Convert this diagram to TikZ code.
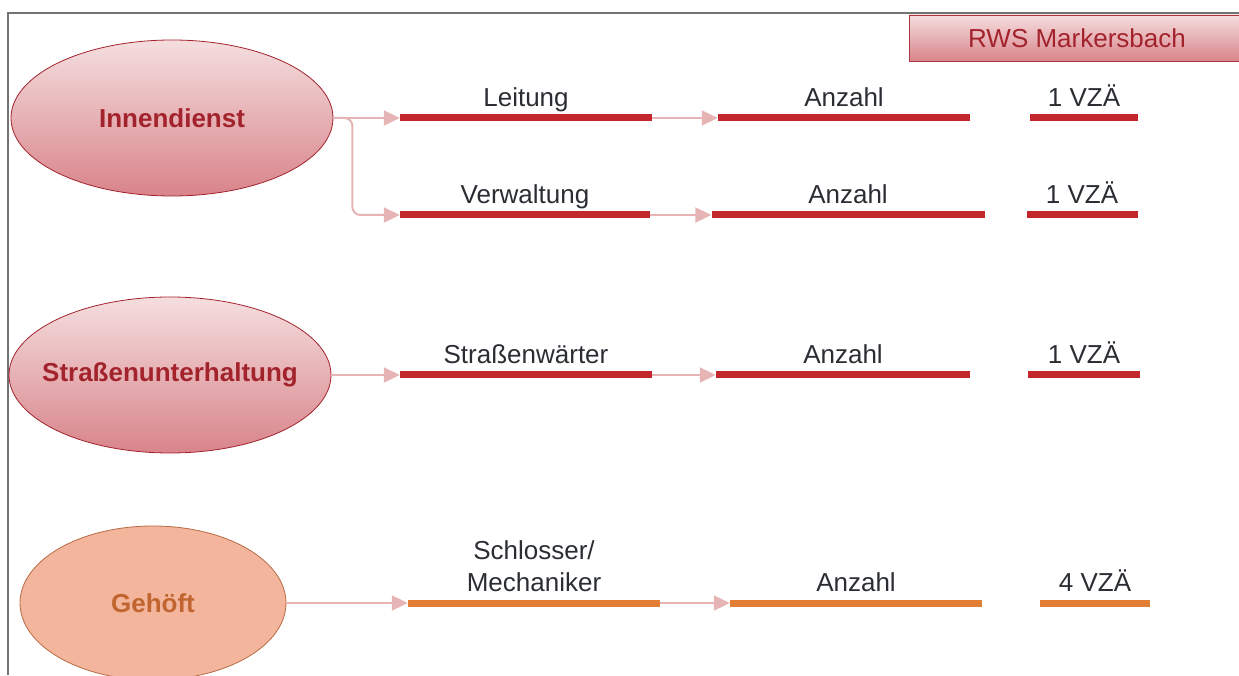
\documentclass[tikz,border=0pt]{standalone}
\usepackage{fontspec}
\setmainfont{Liberation Sans}
\usepackage{tikz}
\usetikzlibrary{arrows.meta,positioning,shapes.geometric}

\definecolor{balkenrot}{HTML}{C4262E}
\definecolor{balkenorange}{HTML}{E27D34}
\definecolor{pfeilrosa}{HTML}{E6B4B4}
\definecolor{textgrau}{HTML}{2A2E33}
\definecolor{rotdunkel}{HTML}{A3232D}
\definecolor{rosaoben}{HTML}{F5DEDF}
\definecolor{rosaunten}{HTML}{D8848A}
\definecolor{lachs}{HTML}{F3B59C}
\definecolor{lachsrand}{HTML}{B86A45}
\definecolor{lachstext}{HTML}{C0652F}

\begin{document}
\begin{tikzpicture}[->,>={Triangle[length=16pt,width=15pt]},x=1pt,y=1pt,
                    font=\fontsize{26}{32}\selectfont]
  \tikzstyle{bereich}=[ellipse,draw=rotdunkel,thick,top color=rosaoben,bottom color=rosaunten,
                       text=rotdunkel,font=\fontsize{26}{32}\selectfont\bfseries,
                       minimum width=322,minimum height=156,inner sep=0]
  \tikzstyle{balken}=[fill=balkenrot,minimum height=7,inner sep=0]
  \tikzstyle{beschr}=[text=textgrau,inner sep=1,text depth=.25em,align=center]
  \tikzstyle{verb}=[draw=pfeilrosa,line width=2]

  \useasboundingbox (0,0) rectangle (1239,675);
  \draw[-,gray!90!black,line width=2] (8,0) |- (1239,662);

  \node[draw=rotdunkel!90,thick,top color=rosaoben,bottom color=rosaunten,text=rotdunkel,
        minimum width=336,minimum height=46,inner sep=0] (rws) at (1077,637) {RWS Markersbach};

  \node[bereich]				(inn) at (172,557)	{Innendienst};
  \node[bereich,inner xsep=-20]		(str) at (170,300)	{Straßenunterhaltung};
  \node[bereich,draw=lachsrand,top color=lachs,bottom color=lachs,text=lachstext,
        minimum width=266,minimum height=154]	(geh) at (153,72)	{Gehöft};

  % Innendienst
  \node[balken,minimum width=252]	(lei) at (526,557)	{};
  \node[balken,minimum width=252]	(anz1) at (844,557)	{};
  \node[balken,minimum width=108]	(vza1) at (1084,557)	{};
  \node[balken,minimum width=250]	(ver) at (525,460)	{};
  \node[balken,minimum width=273]	(anz2) at (848,460)	{};
  \node[balken,minimum width=111]	(vza2) at (1082,460)	{};
  % Strassenunterhaltung
  \node[balken,minimum width=252]	(sw) at (526,300)	{};
  \node[balken,minimum width=254]	(anz3) at (843,300)	{};
  \node[balken,minimum width=112]	(vza3) at (1084,300)	{};
  % Gehoeft
  \node[balken,fill=balkenorange,minimum width=252]	(sm) at (534,72)	{};
  \node[balken,fill=balkenorange,minimum width=252]	(anz4) at (856,72)	{};
  \node[balken,fill=balkenorange,minimum width=110]	(vza4) at (1095,72)	{};

  \node[beschr]	(leiT)  [above=4 of lei]	{Leitung};
  \node[beschr]	(anz1T) [above=4 of anz1]	{Anzahl};
  \node[beschr]	(vza1T) [above=4 of vza1]	{1 VZÄ};
  \node[beschr]	(verT)  [above=4 of ver]	{Verwaltung};
  \node[beschr]	(anz2T) [above=4 of anz2]	{Anzahl};
  \node[beschr]	(vza2T) [above=4 of vza2]	{1 VZÄ};
  \node[beschr]	(swT)   [above=4 of sw]	{Straßenwärter};
  \node[beschr]	(anz3T) [above=4 of anz3]	{Anzahl};
  \node[beschr]	(vza3T) [above=4 of vza3]	{1 VZÄ};
  \node[beschr]	(smT)   [above=4 of sm]	{Schlosser/\\Mechaniker};
  \node[beschr]	(anz4T) [above=4 of anz4]	{Anzahl};
  \node[beschr]	(vza4T) [above=4 of vza4]	{4 VZÄ};

  \path (inn.east) edge[verb] (lei.west);
  \draw[verb,rounded corners=8] (inn.east) -- ++(19,0) |- (ver.west);
  \path (lei.east) edge[verb] (anz1.west);
  \path (ver.east) edge[verb] (anz2.west);
  \path (str.east) edge[verb] (sw.west);
  \path (sw.east) edge[verb] (anz3.west);
  \path (geh.east) edge[verb] (sm.west);
  \path (sm.east) edge[verb] (anz4.west);

\end{tikzpicture}
\end{document}
